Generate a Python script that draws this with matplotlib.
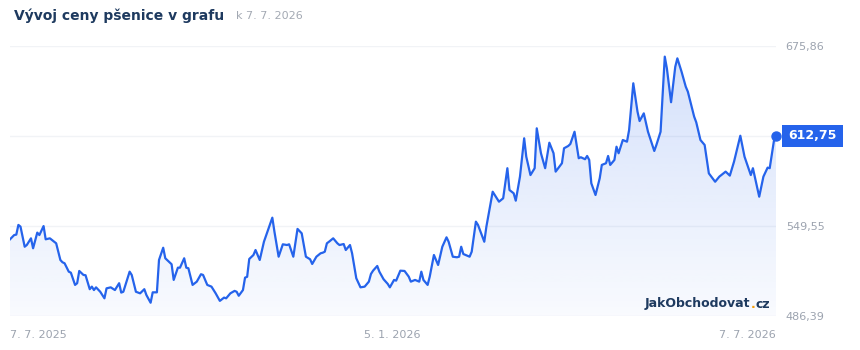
import matplotlib
matplotlib.use("Agg")
import matplotlib.pyplot as plt
import matplotlib.dates as mdates
from matplotlib.patches import PathPatch, Rectangle
from matplotlib.path import Path
import numpy as np
import pandas as pd

# ---------------- data ----------------
start_date = "2025-07-07"
day_offsets = [0, 2, 3, 4, 5, 7, 8, 10, 11, 13, 14, 16, 17, 19, 21, 22, 24, 25, 26, 28,
               29, 31, 32, 33, 35, 36, 38, 39, 40, 41, 43, 45, 46, 48, 50, 51, 52, 53, 54, 57,
               58, 60, 62, 64, 65, 67, 68, 70, 71, 73, 74, 77, 78, 80, 81, 83, 84, 85, 87, 89,
               91, 92, 94, 96, 98, 100, 102, 103, 105, 107, 108, 109, 111, 112, 113, 114, 116, 117, 119, 121,
               125, 126, 128, 130, 132, 133, 135, 137, 139, 141, 143, 144, 146, 148, 149, 150, 151, 152, 154, 156,
               157, 159, 160, 162, 163, 165, 167, 169, 171, 172, 173, 175, 176, 178, 180, 181, 183, 184, 186, 188,
               190, 191, 193, 195, 196, 197, 199, 200, 202, 204, 206, 208, 209, 211, 213, 214, 215, 216, 219, 220,
               222, 223, 226, 227, 230, 231, 233, 235, 237, 238, 240, 241, 243, 245, 246, 248, 249, 250, 251, 253,
               255, 257, 259, 260, 263, 264, 266, 267, 269, 271, 272, 274, 275, 276, 277, 279, 281, 282, 284, 285,
               286, 288, 289, 290, 292, 294, 295, 297, 299, 300, 302, 304, 307, 308, 310, 312, 313, 315, 317, 318,
               320, 322, 323, 326, 327, 329, 331, 333, 336, 338, 341, 343, 345, 348, 350, 353, 354, 357, 359, 361,
               362, 364, 365]
prices = [540.2, 543.2, 543.5, 550.3, 549.1, 535.0, 536.2, 540.9, 533.9, 544.9, 543.2, 549.5, 540.2, 540.9, 538.5, 537.4, 525.7, 524.1, 523.4, 517.5,
          516.8, 508.2, 509.4, 518.0, 515.2, 515.0, 505.2, 507.0, 504.6, 506.5, 503.4, 498.8, 505.8, 506.5, 504.6, 507.0, 509.4, 502.8, 503.4, 517.5,
          515.2, 503.4, 502.3, 505.2, 501.1, 495.7, 503.0, 503.0, 525.7, 534.3, 526.9, 522.7, 511.7, 520.3, 520.3, 526.9, 520.3, 519.9, 508.2, 510.5,
          515.7, 515.2, 508.2, 507.0, 502.3, 497.0, 499.3, 498.8, 502.3, 504.0, 503.4, 500.6, 504.6, 513.3, 513.9, 526.4, 529.2, 532.7, 525.7, 538.5,
          555.4, 545.6, 528.0, 536.7, 536.2, 536.7, 528.0, 547.5, 544.4, 528.0, 526.2, 522.9, 528.0, 530.4, 530.8, 531.5, 537.4, 538.5, 540.9, 537.4,
          536.2, 536.9, 532.7, 536.2, 530.4, 512.9, 506.5, 507.0, 510.5, 515.9, 518.2, 521.5, 517.5, 512.2, 508.9, 506.5, 511.7, 511.2, 518.2, 518.0,
          514.0, 510.5, 511.7, 510.5, 517.5, 511.7, 508.2, 514.0, 529.2, 522.2, 535.0, 541.6, 538.5, 528.0, 527.6, 528.0, 535.0, 529.9, 528.0, 531.5,
          552.6, 550.3, 538.5, 549.1, 573.6, 571.3, 566.6, 569.0, 590.1, 574.8, 572.5, 567.3, 584.2, 611.1, 598.2, 585.3, 587.7, 590.1, 618.1, 600.6,
          590.1, 608.0, 600.6, 587.7, 593.6, 604.1, 605.7, 607.1, 615.7, 597.1, 597.8, 596.4, 598.7, 595.9, 579.5, 571.3, 583.0, 592.4, 593.6, 598.7,
          592.4, 595.9, 605.2, 600.6, 609.9, 608.7, 616.9, 649.7, 629.8, 623.2, 628.6, 615.7, 602.2, 606.4, 615.7, 668.4, 660.2, 636.4, 661.3, 667.2,
          657.8, 647.3, 643.8, 626.3, 622.3, 609.9, 606.4, 586.5, 580.6, 584.2, 587.7, 584.9, 594.7, 612.9, 598.2, 585.3, 590.1, 570.1, 584.2, 590.5,
          590.1, 609.2, 612.75]
y_ticks = [486.39, 549.55, 612.70, 675.86]
y_tick_labels = ["486,39", "549,55", "", "675,86"]
x_tick_dates = ["2025-07-07", "2026-01-05", "2026-07-07"]
x_tick_labels = ["7. 7. 2025", "5. 1. 2026", "7. 7. 2026"]
last_label = "612,75"
title_text = "Vývoj ceny pšenice v grafu"
subtitle_text = "k 7. 7. 2026"
brand_parts = ["JakObchodovat", ".", "cz"]

# ---------------- style ----------------
BLUE = "#2563eb"
NAVY = "#1e3a5f"
GRAY = "#9ca3af"
GRID = "#f1f3f6"
ORANGE = "#f59e0b"

W, H = 860, 350
fig = plt.figure(figsize=(W / 100, H / 100), dpi=100)
fig.patch.set_facecolor("white")
ax = fig.add_axes([10 / W, 34 / H, 766 / W, 270 / H])
ax.set_facecolor("white")

dates = pd.to_datetime(start_date) + pd.to_timedelta(day_offsets, unit="D")
x = mdates.date2num(dates.to_pydatetime())
y = np.array(prices)

ymin, ymax = y_ticks[0], y_ticks[-1]
ax.set_xlim(x[0], x[-1])
ax.set_ylim(ymin, ymax)

# gradient fill under the line
verts = [(x[0], ymin)] + list(zip(x, y)) + [(x[-1], ymin), (x[0], ymin)]
codes = [Path.MOVETO] + [Path.LINETO] * (len(verts) - 2) + [Path.CLOSEPOLY]
clip = PathPatch(Path(verts, codes), facecolor="none", edgecolor="none")
ax.add_patch(clip)
n = 256
grad = np.zeros((n, 1, 4))
grad[:, 0, 0] = 37 / 255
grad[:, 0, 1] = 99 / 255
grad[:, 0, 2] = 235 / 255
grad[:, 0, 3] = np.linspace(0.03, 0.20, n)
im = ax.imshow(grad, extent=[x[0], x[-1], ymin, ymax], origin="lower",
               aspect="auto", zorder=1, interpolation="bilinear")
im.set_clip_path(clip)

ax.plot(x, y, color=BLUE, lw=1.6, solid_joinstyle="round", zorder=3)
ax.plot([x[-1]], [y[-1]], "o", ms=6.5, color=BLUE, zorder=4, clip_on=False)

# grid
for t in y_ticks:
    ax.axhline(t, color=GRID, lw=1.0, zorder=0)

for s in ax.spines.values():
    s.set_visible(False)

ax.yaxis.tick_right()
ax.set_yticks(y_ticks)
ax.set_yticklabels(y_tick_labels)
ax.tick_params(axis="y", length=0, pad=7, labelsize=8, labelcolor=GRAY)

xt = mdates.date2num(pd.to_datetime(x_tick_dates).to_pydatetime())
ax.set_xticks(xt)
ax.set_xticklabels(x_tick_labels)
ax.tick_params(axis="x", length=0, pad=10, labelsize=8, labelcolor=GRAY)
xl = ax.get_xticklabels()
xl[0].set_ha("left")
xl[1].set_ha("center")
xl[2].set_ha("right")

# last value box
fig.canvas.draw()
ydisp = ax.transData.transform((x[-1], y[-1]))[1]
yc = ydisp / H
box_w, box_h = 61 / W, 22 / H
fig.patches.append(Rectangle((782 / W, yc - box_h / 2), box_w, box_h,
                             transform=fig.transFigure, facecolor=BLUE,
                             edgecolor="none", zorder=5))
fig.text(782 / W + box_w / 2, yc, last_label, ha="center", va="center",
         color="white", fontsize=9, fontweight="bold", zorder=6)

# titles
fig.text(14 / W, 1 - 16 / H, title_text, ha="left", va="center",
         fontsize=10, fontweight="bold", color=NAVY)
fig.text(236 / W, 1 - 16 / H, subtitle_text, ha="left", va="center",
         fontsize=8, color="#a3a9b3")

# brand watermark in three pieces (navy name, orange dot, navy "cz"), common baseline
r = fig.canvas.get_renderer()
yb = 1 - 307.5 / H
kw = dict(fontsize=9, fontweight="bold", va="baseline")


def text_width(s):
    t = fig.text(0, 0, s, color="none", ha="left", **kw)
    w = t.get_window_extent(r).width
    t.remove()
    return w


x_right = 770
x0 = x_right - text_width("".join(brand_parts))
x_dot_right = x0 + text_width(brand_parts[0] + brand_parts[1])
fig.text(x0 / W, yb, brand_parts[0], color=NAVY, ha="left", zorder=6, **kw)
fig.text(x_dot_right / W, yb, brand_parts[1], color=ORANGE, ha="right", zorder=6, **kw)
fig.text(x_right / W, yb, brand_parts[2], color=NAVY, ha="right", zorder=6, **kw)

fig.savefig("out.png", dpi=100, facecolor="white")
